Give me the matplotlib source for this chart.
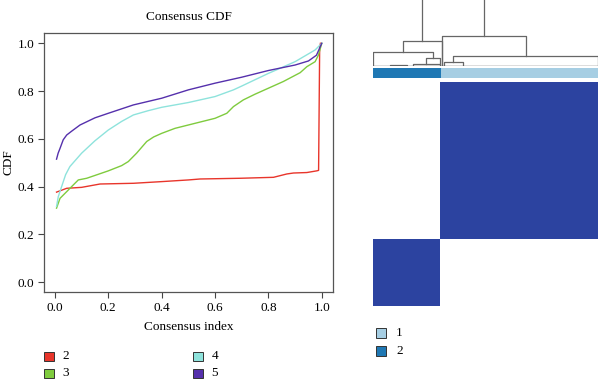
import matplotlib.pyplot as plt
import numpy as np
from matplotlib.patches import Rectangle
from matplotlib.colors import LinearSegmentedColormap

plt.rcParams['font.family'] = ['Liberation Serif', 'DejaVu Serif']

# consensus CDF curves (k = 2..5)
k_labels = ['2', '3', '4', '5']
k_colors = ['#E8352B', '#7FCB3E', '#8EE3DC', '#5530AC']

x_k2 = [0.006, 0.044, 0.1, 0.169, 0.294, 0.4, 0.5, 0.544, 0.694, 0.819, 0.869, 0.894, 0.944, 0.981, 0.988, 0.992, 0.995]
y_k2 = [0.377, 0.393, 0.397, 0.411, 0.414, 0.421, 0.428, 0.432, 0.435, 0.439, 0.453, 0.457, 0.459, 0.466, 0.468, 0.98, 1.0]

x_k3 = [0.006, 0.019, 0.044, 0.0625, 0.0875, 0.119, 0.2, 0.25, 0.275, 0.306, 0.344, 0.37, 0.4, 0.45, 0.5, 0.6, 0.644, 0.669, 0.706, 0.75, 0.8, 0.856, 0.919, 0.944, 0.975, 0.9875, 1.0]
y_k3 = [0.31, 0.351, 0.379, 0.40, 0.428, 0.435, 0.466, 0.488, 0.505, 0.54, 0.589, 0.608, 0.623, 0.644, 0.658, 0.686, 0.707, 0.735, 0.763, 0.787, 0.812, 0.84, 0.877, 0.902, 0.923, 0.951, 1.0]

x_k4 = [0.006, 0.0125, 0.025, 0.04, 0.056, 0.1, 0.15, 0.2, 0.25, 0.294, 0.35, 0.4, 0.5, 0.6, 0.669, 0.7, 0.8, 0.9, 0.975, 1.0]
y_k4 = [0.317, 0.358, 0.40, 0.45, 0.484, 0.54, 0.592, 0.637, 0.673, 0.70, 0.718, 0.732, 0.752, 0.777, 0.805, 0.821, 0.874, 0.923, 0.972, 1.0]

x_k5 = [0.006, 0.012, 0.019, 0.031, 0.044, 0.0625, 0.094, 0.15, 0.2, 0.294, 0.4, 0.5, 0.6, 0.7, 0.8, 0.9, 0.95, 0.98, 1.0]
y_k5 = [0.515, 0.54, 0.56, 0.596, 0.616, 0.632, 0.658, 0.688, 0.707, 0.742, 0.770, 0.805, 0.833, 0.858, 0.886, 0.909, 0.926, 0.95, 1.0]

curves = [(x_k2, y_k2), (x_k3, y_k3), (x_k4, y_k4), (x_k5, y_k5)]

# consensus matrix for k = 2 (cluster sizes, column order: cluster 2 then cluster 1)
cluster_labels = ['1', '2']
cluster_colors = ['#A6CEE3', '#1F78B4']
n_cluster2 = 30
n_cluster1 = 70

# dendrogram links: x_left, x_right, height, left leg bottom, right leg bottom
dendro_links = [
    (21.9, 49.3, 70, 25, 30),
    (13.5, 30.5, 25, 14, 0.5),
    (0.2, 26.8, 14, 0.5, 8),
    (23.4, 29.8, 8, 2.5, 2.5),
    (30.8, 67.9, 30, 0.5, 10),
    (35.7, 99.8, 10, 4, 0.5),
    (31.6, 40.1, 4, 1, 1),
    (7.6, 15.0, 1.2, 0.5, 0.5),
    (17.8, 29.8, 2.5, 0.5, 0.5),
]

fig = plt.figure(figsize=(6, 3.82), dpi=100)

# ---- CDF panel
ax = fig.add_axes([44 / 600, 1 - 292 / 382, 289 / 600, 259 / 382])
for (xs, ys), c in zip(curves, k_colors):
    ax.plot(xs, ys, color=c, lw=1.0)
ax.set_xlim(-0.041, 1.042)
ax.set_ylim(-0.041, 1.043)
ticks = np.arange(0, 1.01, 0.2)
ax.set_xticks(ticks)
ax.set_yticks(ticks)
ax.set_xticklabels(['%.1f' % t for t in ticks])
ax.set_yticklabels(['%.1f' % t for t in ticks])
ax.tick_params(labelsize=9.5, length=4, color='#444444', direction='out', pad=3)
for sp in ax.spines.values():
    sp.set_color('#555555')
    sp.set_linewidth(0.9)
ax.set_title('Consensus CDF', fontsize=9.5, pad=9)
ax.set_xlabel('Consensus index', fontsize=9.5, labelpad=5)
ax.set_ylabel('CDF', fontsize=9.5)
ax.yaxis.set_label_coords(-29 / 289, 0.5)

# legend for the CDF panel
sq_w, sq_h = 10 / 600, 9.5 / 382
leg_pos = [(44.3, 356.3), (44.3, 373.3), (193.3, 356.3), (193.3, 373.3)]
for (px, py), lab, c in zip(leg_pos, k_labels, k_colors):
    fig.add_artist(Rectangle((px / 600, 1 - py / 382 - sq_h / 2), sq_w, sq_h,
                             transform=fig.transFigure, facecolor=c,
                             edgecolor='#333333', lw=0.7))
    fig.text((px + 18) / 600, 1 - py / 382, lab, fontsize=9.5, va='center', ha='left')

# ---- consensus heatmap
n_total = n_cluster2 + n_cluster1
member = np.array([1] * n_cluster2 + [0] * n_cluster1)
mat = (member[:, None] == member[None, :]).astype(float)
mat = mat[::-1, :]  # rows shown bottom-up

hx0, hx1 = 373 / 600, 598 / 600
hax = fig.add_axes([hx0, 1 - 306 / 382, hx1 - hx0, 224 / 382])
hax.imshow(mat, cmap=LinearSegmentedColormap.from_list('cc', ['#FFFFFF', '#2C43A0']),
           aspect='auto', interpolation='nearest', extent=(0, n_total, n_total, 0))
hax.set_axis_off()

# cluster colour bar
cax = fig.add_axes([hx0, 1 - 78 / 382, hx1 - hx0, 10 / 382])
bar_cols = [cluster_colors[1] if m else cluster_colors[0] for m in member]
for i, c in enumerate(bar_cols):
    cax.bar(i + 0.5, 1, width=1.0, color=c, lw=0)
cax.set_xlim(0, n_total)
cax.set_ylim(0, 1)
cax.set_axis_off()

# dendrogram
dax = fig.add_axes([hx0, 1 - 66 / 382, hx1 - hx0, 66 / 382])
for xl, xr, h, hl, hr in dendro_links:
    dax.plot([xl, xl, xr, xr], [hl, h, h, hr], color='#666666', lw=0.9)
dax.plot([0, n_total], [0.5, 0.5], color='#555555', lw=1.0)
dax.set_xlim(0, n_total)
dax.set_ylim(0, 66)
dax.set_axis_off()

# cluster legend
for py, lab, c in zip([333, 351], cluster_labels, cluster_colors):
    fig.add_artist(Rectangle((376 / 600, 1 - py / 382 - sq_h / 2), sq_w, sq_h,
                             transform=fig.transFigure, facecolor=c,
                             edgecolor='#333333', lw=0.7))
    fig.text(396 / 600, 1 - py / 382, lab, fontsize=9.5, va='center', ha='left')

fig.savefig('out.png', dpi=100)
